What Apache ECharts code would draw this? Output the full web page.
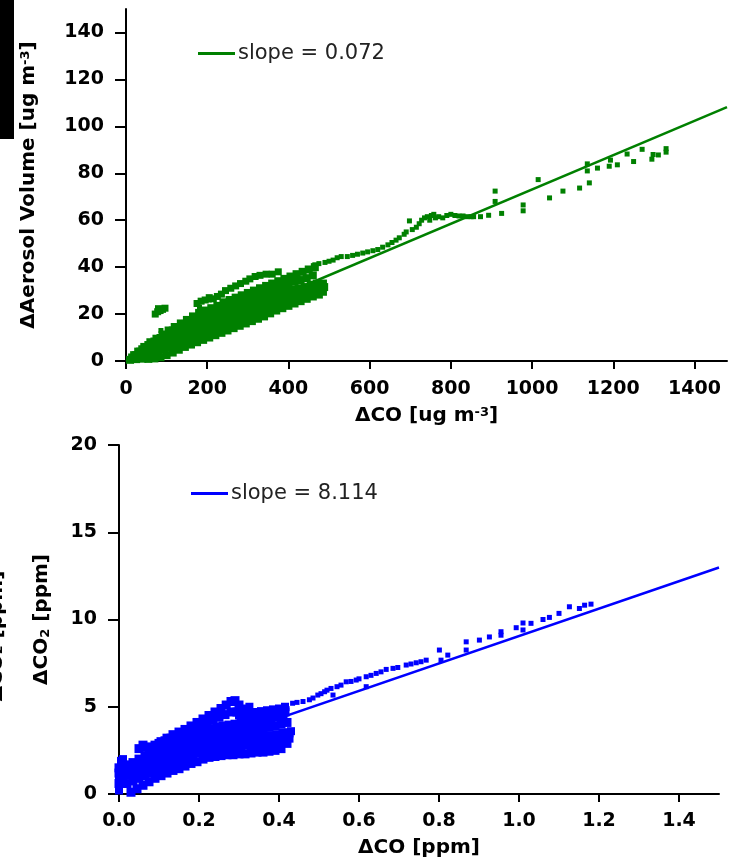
<!DOCTYPE html>
<html><head><meta charset="utf-8">
<script src="https://cdn.jsdelivr.net/npm/echarts@6/dist/echarts.min.js"></script>
<style>html,body{margin:0;padding:0;background:#fff}#c{width:732px;height:864px}</style>
</head><body><div id="c"></div>
<script>
// ---------- tick labels ----------
const aeroXTicks = [0, 200, 400, 600, 800, 1000, 1200, 1400];
const aeroYTicks = [0, 20, 40, 60, 80, 100, 120, 140];
const co2XTicks = [0, 0.2, 0.4, 0.6, 0.8, 1.0, 1.2, 1.4];
const co2YTicks = [0, 5, 10, 15, 20];

// ---------- top panel: dCO [ug m-3] vs dAerosol Volume ----------
const aeroTrackA = [[10,0.5],[25,0.8],[40,1],[55,0.9],[70,1.1],[85,1.6],[100,2.5],[115,3.6],[130,4.8],[145,6],[160,7],[175,8],[190,9],[205,10],[220,11],[235,12],[250,13],[265,14],[280,15],[295,16],[310,17],[325,18],[340,19],[355,20.3],[370,21.5],[385,22.5],[400,23.5],[415,24.5],[430,25.5],[445,26.5],[460,27.5],[475,28.3],[485,29.5]];
const aeroTrackAB = [[20,1],[35,1.8],[50,2.3],[65,3],[80,3.8],[95,4.8],[110,5.8],[125,6.8],[140,8],[155,9],[170,10],[185,11],[200,12],[215,13],[230,14],[245,15],[260,16],[275,17],[290,18],[305,19],[320,20],[335,21],[350,22],[365,23],[380,24],[395,25],[410,26],[425,27],[440,27.5],[455,28.5],[470,29.5],[482,30.5]];
const aeroTrackB = [[15,1.5],[30,2.5],[45,3.5],[60,4.5],[75,5.5],[90,6.5],[105,7.5],[120,8.5],[135,9.5],[150,10.5],[165,11.5],[180,12.5],[195,13.5],[210,14.5],[225,15.5],[240,16.5],[255,17.5],[270,18.5],[285,19.5],[300,20.5],[315,21.5],[330,22.5],[345,23.5],[360,24.5],[375,25],[390,26],[405,27],[420,28],[435,28.5],[450,29.5],[465,30],[480,31],[488,31.5]];
const aeroTrackBC = [[25,2.5],[40,3.8],[55,5],[70,6.3],[85,7.5],[100,8.8],[115,10],[130,11],[145,12.3],[160,13.3],[175,14.3],[190,15.3],[205,16.3],[220,17.3],[235,18.3],[250,19.3],[265,20.3],[280,21.3],[295,22.3],[310,23.3],[325,24.3],[340,25.3],[355,26.3],[370,27],[385,27.5],[400,28.5],[415,29.3],[430,29.8],[445,30.5],[460,31.3],[475,32]];
const aeroTrackC = [[20,2.5],[35,4],[50,5.5],[65,7],[80,8.5],[95,10],[110,11.5],[125,12.5],[140,14],[155,15],[170,16],[185,17],[200,18],[215,19],[230,20],[245,21],[260,22],[275,23],[290,24],[305,25],[320,26],[335,27],[350,28],[365,28.5],[380,29],[395,30],[410,30.5],[425,31],[440,31.5],[455,32.5],[470,33],[485,33]];
const aeroTrackCD = [[40,5],[55,6.8],[70,8.3],[85,9.8],[100,11.3],[115,13],[130,14.3],[145,15.8],[160,17],[175,18.3],[190,19.3],[205,20.3],[220,21.3],[235,22.5],[250,23.5],[265,24.5],[280,25.5],[295,26.5],[310,27.5],[325,28.5],[340,29.5],[355,30.5],[370,31.3],[385,32],[400,33],[415,33.8],[430,34.5],[445,35.3],[460,36.5]];
const aeroTrackD = [[30,4],[45,6],[60,8],[75,9.5],[90,11],[105,13],[120,14.5],[135,16],[150,17.5],[165,19],[180,20.5],[195,21.5],[210,22.5],[225,23.5],[240,25],[255,26],[270,27],[285,28],[300,29],[315,30],[330,31],[345,32],[360,33],[375,34],[390,35],[405,36],[420,37],[435,38],[450,39],[465,40]];
const aeroTrackE = [[175,24.5],[185,25.5],[195,26],[205,27],[215,26.5],[225,27.5],[235,28.5],[245,30],[258,31],[270,32],[282,33],[295,34],[305,35],[318,36],[330,36.5],[345,37],[360,37],[375,38],[72,20],[78,21],[84,21.5],[90,22],[96,22.5],[80,22.3]];
const aeroSparse = [[86,13],[181,23],[205,26],[465,41],[475,41.5],[490,42],[500,42.5],[510,43],[520,44],[530,44.5],[545,44.5],[558,45],[570,45.5],[583,46],[595,46.5],[608,47],[620,47.5],[632,48.5],[645,49.5],[655,50.5],[665,51.5],[673,52.5],[685,54],[690,55],[698,59.7],[705,56],[715,57],[722,58.5],[728,60],[735,61],[742,61.5],[748,60],[752,62],[758,62.5],[762,61],[770,61.5],[780,61],[790,62],[800,62.5],[810,62],[820,61.8],[830,61.8],[840,61.5],[850,61.5],[856,61.5],[873,61.5],[893,62.1],[909,68],[909,72.4],[925,62.9],[978,64],[978,66.5],[1015,77.3],[1043,69.5],[1076,72.4],[1117,73.7],[1141,75.9],[1136,81],[1136,84],[1161,82.2],[1190,83],[1193,85.6],[1210,83.6],[1234,88.2],[1250,85],[1271,90.2],[1295,86],[1298,88],[1311,87.8],[1330,89],[1330,90.5]];
const aeroFit = [[0,0],[1480,108.2]];

// ---------- bottom panel: dCO [ppm] vs dCO2 [ppm] ----------
const co2TrackA = [[0.03,0.1],[0.045,0.3],[0.06,0.5],[0.075,0.7],[0.09,0.9],[0.105,1.05],[0.12,1.2],[0.135,1.35],[0.15,1.45],[0.165,1.6],[0.18,1.75],[0.195,1.85],[0.21,2.0],[0.225,2.1],[0.24,2.15],[0.255,2.2],[0.27,2.25],[0.285,2.25],[0.3,2.3],[0.315,2.3],[0.33,2.35],[0.345,2.4],[0.36,2.4],[0.375,2.45],[0.39,2.5],[0.405,2.6],[0.42,2.9]];
const co2TrackAB = [[0.02,0.6],[0.035,0.75],[0.05,0.9],[0.065,1.05],[0.08,1.2],[0.095,1.35],[0.11,1.5],[0.125,1.65],[0.14,1.8],[0.155,1.9],[0.17,2.05],[0.185,2.2],[0.2,2.35],[0.215,2.45],[0.23,2.55],[0.245,2.6],[0.26,2.65],[0.275,2.65],[0.29,2.7],[0.305,2.75],[0.32,2.8],[0.335,2.8],[0.35,2.85],[0.365,2.85],[0.38,2.9],[0.395,2.95],[0.41,3.05],[0.425,3.2]];
const co2TrackB = [[0.0,0.6],[0.01,0.9],[0.02,1.1],[0.035,1.2],[0.05,1.35],[0.065,1.5],[0.08,1.65],[0.095,1.8],[0.11,1.95],[0.125,2.1],[0.14,2.2],[0.155,2.35],[0.17,2.5],[0.185,2.6],[0.2,2.75],[0.215,2.85],[0.23,2.95],[0.245,3.0],[0.26,3.05],[0.275,3.1],[0.29,3.1],[0.305,3.15],[0.32,3.2],[0.335,3.25],[0.35,3.3],[0.365,3.3],[0.38,3.35],[0.395,3.4],[0.41,3.5],[0.425,3.5]];
const co2TrackBC = [[0.0,1.2],[0.015,1.4],[0.03,1.5],[0.045,1.65],[0.06,1.8],[0.075,2.0],[0.09,2.15],[0.105,2.3],[0.12,2.45],[0.135,2.6],[0.15,2.75],[0.165,2.9],[0.18,3.0],[0.195,3.15],[0.21,3.25],[0.225,3.35],[0.24,3.45],[0.255,3.45],[0.27,3.5],[0.285,3.55],[0.3,3.6],[0.315,3.65],[0.33,3.7],[0.345,3.75],[0.36,3.8],[0.375,3.85],[0.39,3.9],[0.405,4.0],[0.42,4.1]];
const co2TrackC = [[0.0,1.5],[0.01,1.3],[0.02,1.6],[0.035,1.8],[0.05,2.0],[0.065,2.2],[0.08,2.4],[0.095,2.55],[0.11,2.7],[0.125,2.85],[0.14,3.0],[0.155,3.15],[0.17,3.3],[0.185,3.45],[0.2,3.55],[0.215,3.65],[0.23,3.75],[0.245,3.85],[0.26,3.9],[0.275,3.95],[0.29,4.0],[0.305,4.05],[0.32,4.1],[0.335,4.15],[0.35,4.2],[0.365,4.25],[0.38,4.3],[0.395,4.4],[0.41,4.5]];
const co2TrackCD = [[0.07,2.7],[0.085,2.65],[0.1,2.9],[0.115,3.05],[0.13,3.2],[0.145,3.35],[0.16,3.45],[0.175,3.6],[0.19,3.8],[0.205,3.95],[0.22,4.1],[0.235,4.25],[0.25,4.4],[0.265,4.55],[0.28,4.7],[0.295,4.7],[0.31,4.45],[0.325,4.45],[0.34,4.45],[0.355,4.5],[0.37,4.55],[0.385,4.6],[0.4,4.65],[0.415,4.7]];
const co2TrackD = [[0.05,2.6],[0.06,2.8],[0.075,2.5],[0.09,2.8],[0.105,3.0],[0.12,3.2],[0.135,3.4],[0.15,3.55],[0.165,3.7],[0.18,3.9],[0.195,4.1],[0.21,4.3],[0.225,4.5],[0.24,4.7],[0.255,4.9],[0.268,5.1],[0.28,5.3],[0.29,5.35],[0.3,5.1],[0.31,4.8],[0.32,4.6]];
const co2TrackE = [[0.3,4.5],[0.315,4.9],[0.326,5.0],[0.34,4.7],[0.355,4.75],[0.37,4.8],[0.385,4.85],[0.4,4.9],[0.415,5.0],[0.43,3.6],[0.0,0.2],[0.005,1.9],[0.01,2.0],[0.015,1.7],[0.0,1.0]];
const co2Sparse = [[0.35,4.2],[0.36,4.5],[0.375,4.6],[0.39,4.7],[0.405,4.8],[0.42,4.9],[0.434,5.2],[0.445,5.25],[0.46,5.3],[0.476,5.4],[0.485,5.5],[0.497,5.67],[0.505,5.75],[0.514,5.86],[0.52,5.95],[0.53,6.05],[0.535,5.67],[0.545,6.15],[0.555,6.24],[0.568,6.43],[0.58,6.45],[0.593,6.53],[0.6,6.6],[0.618,6.72],[0.618,6.15],[0.63,6.8],[0.643,6.91],[0.655,7.0],[0.668,7.14],[0.685,7.2],[0.697,7.25],[0.718,7.39],[0.73,7.45],[0.743,7.52],[0.755,7.58],[0.768,7.67],[0.801,8.25],[0.805,7.67],[0.822,7.96],[0.868,8.72],[0.868,8.25],[0.901,8.82],[0.926,9.0],[0.955,9.1],[0.955,9.3],[0.993,9.53],[1.01,9.4],[1.01,9.8],[1.03,9.78],[1.06,10.0],[1.076,10.12],[1.1,10.35],[1.126,10.73],[1.151,10.63],[1.164,10.82],[1.18,10.88]];
const co2Fit = [[0,1.2],[1.5,12.98]];

const aeroLabel = 'slope = 0.072';
const co2Label = 'slope = 8.114';

// ---------- styles ----------
const FONT = 'DejaVu Sans';
const tickFont = {fontFamily: FONT, fontWeight: 'bold', fontSize: 19, color: '#000'};
const nameFont = {
  fontFamily: FONT, fontWeight: 'bold', fontSize: 20, color: '#000',
  rich: {
    sup: {fontFamily: FONT, fontWeight: 'bold', fontSize: 13, color: '#000', verticalAlign: 'top', lineHeight: 7},
    sub: {fontFamily: FONT, fontWeight: 'bold', fontSize: 13, color: '#000', verticalAlign: 'bottom', lineHeight: 12}
  }
};
const axisLine = {show: true, onZero: false, lineStyle: {color: '#000', width: 2}};
function tick(len, vals) { return {show: true, length: len, customValues: vals, lineStyle: {color: '#000', width: 2}}; }

const GREEN = '#008000', BLUE = '#0000ff';

function sc(data, xi, color, size) {
  return {type: 'scatter', xAxisIndex: xi, yAxisIndex: xi, data: data, symbol: 'rect', symbolSize: size,
          itemStyle: {color: color, opacity: 1}, silent: true, z: 3};
}

const option = {
  animation: false,
  backgroundColor: '#fff',
  grid: [
    {left: 126, right: 5, top: 9, bottom: 503},
    {left: 119, right: 13, top: 445, bottom: 70}
  ],
  xAxis: [
    {type: 'value', gridIndex: 0, min: 0, max: 1480, interval: 200,
     axisLine: axisLine, axisTick: tick(8, aeroXTicks), splitLine: {show: false},
     axisLabel: Object.assign({margin: 19, customValues: aeroXTicks, formatter: v => String(v)}, tickFont),
     name: 'ΔCO [ug m{sup|-3}]', nameLocation: 'middle', nameGap: 45, nameTextStyle: nameFont},
    {type: 'value', gridIndex: 1, min: 0, max: 1.5, interval: 0.2,
     axisLine: axisLine, axisTick: tick(8, co2XTicks), splitLine: {show: false},
     axisLabel: Object.assign({margin: 18, customValues: co2XTicks, formatter: v => v.toFixed(1)}, tickFont),
     name: 'ΔCO [ppm]', nameLocation: 'middle', nameGap: 44, nameTextStyle: nameFont}
  ],
  yAxis: [
    {type: 'value', gridIndex: 0, min: 0, max: 150, interval: 10,
     axisLine: axisLine, axisTick: tick(11, aeroYTicks), splitLine: {show: false},
     axisLabel: Object.assign({margin: 22, customValues: aeroYTicks}, tickFont),
     name: 'ΔAerosol Volume [ug m{sup|-3}]', nameLocation: 'middle', nameGap: 87, nameTextStyle: nameFont},
    {type: 'value', gridIndex: 1, min: 0, max: 20, interval: 5,
     axisLine: axisLine, axisTick: tick(11, co2YTicks), splitLine: {show: false},
     axisLabel: Object.assign({margin: 22, customValues: co2YTicks}, tickFont),
     name: 'ΔCO{sub|2} [ppm]', nameLocation: 'middle', nameGap: 67, nameTextStyle: nameFont}
  ],
  legend: [
    {data: [aeroLabel], left: 193, top: 38, itemWidth: 37, itemHeight: 3, icon: 'rect', itemGap: 0,
     textStyle: {fontFamily: FONT, fontSize: 21, color: '#222', padding: [0, 0, 0, -2]}},
    {data: [co2Label], left: 186, top: 478, itemWidth: 37, itemHeight: 3, icon: 'rect', itemGap: 0,
     textStyle: {fontFamily: FONT, fontSize: 21, color: '#222', padding: [0, 0, 0, -2]}}
  ],
  graphic: [
    {type: 'rect', left: 0, top: 0, shape: {width: 14, height: 139}, style: {fill: '#000'}, silent: true},
    {type: 'text', x: -3, y: 636, rotation: Math.PI / 2,
     style: {text: 'ΔCO₂ [ppm]', fontFamily: FONT, fontWeight: 'bold', fontSize: 20, fill: '#000',
             align: 'center', verticalAlign: 'middle'}, silent: true}
  ],
  series: [
    {type: 'line', name: aeroLabel, xAxisIndex: 0, yAxisIndex: 0, data: aeroFit, symbol: 'none',
     lineStyle: {color: GREEN, width: 2.5}, itemStyle: {color: GREEN}, z: 2, silent: true},
    sc(aeroTrackA, 0, GREEN, 8), sc(aeroTrackAB, 0, GREEN, 8), sc(aeroTrackB, 0, GREEN, 8),
    sc(aeroTrackBC, 0, GREEN, 8), sc(aeroTrackC, 0, GREEN, 8), sc(aeroTrackCD, 0, GREEN, 8),
    sc(aeroTrackD, 0, GREEN, 8), sc(aeroTrackE, 0, GREEN, 7), sc(aeroSparse, 0, GREEN, 5),
    {type: 'line', name: co2Label, xAxisIndex: 1, yAxisIndex: 1, data: co2Fit, symbol: 'none',
     lineStyle: {color: BLUE, width: 2.5}, itemStyle: {color: BLUE}, z: 2, silent: true},
    sc(co2TrackA, 1, BLUE, 9), sc(co2TrackAB, 1, BLUE, 9), sc(co2TrackB, 1, BLUE, 9),
    sc(co2TrackBC, 1, BLUE, 9), sc(co2TrackC, 1, BLUE, 9), sc(co2TrackCD, 1, BLUE, 9),
    sc(co2TrackD, 1, BLUE, 9), sc(co2TrackE, 1, BLUE, 8), sc(co2Sparse, 1, BLUE, 5)
  ]
};

const chart = echarts.init(document.getElementById('c'), null, {renderer: 'canvas'});
chart.setOption(option);
</script></body></html>
